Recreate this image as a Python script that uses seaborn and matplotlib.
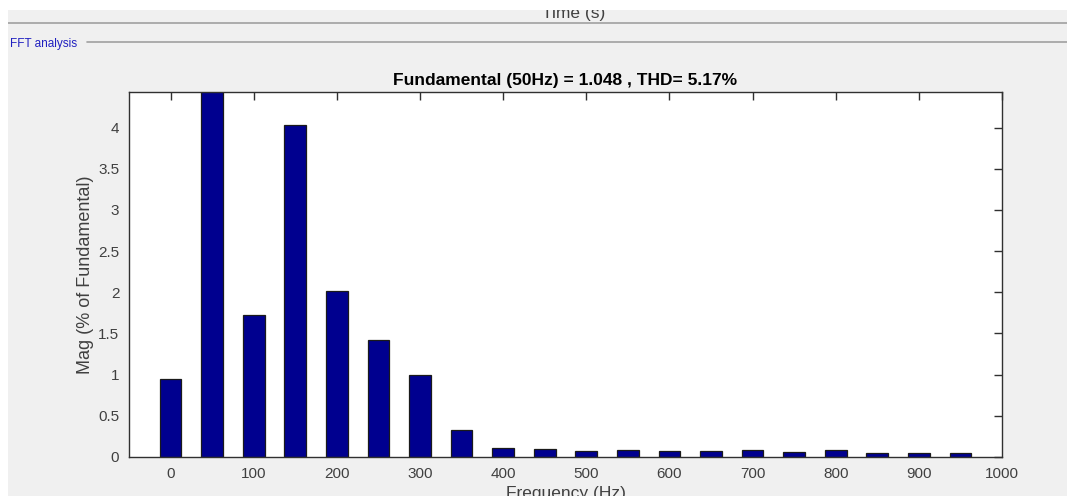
import numpy as np
import matplotlib
matplotlib.use("Agg")
import matplotlib.pyplot as plt
import seaborn as sns
from matplotlib.patches import Rectangle
from matplotlib.lines import Line2D

# harmonic spectrum (fundamental bar is clipped, 100 %)
freqs = [0, 50, 100, 150, 200, 250, 300, 350, 400, 450,
         500, 550, 600, 650, 700, 750, 800, 850, 900, 950]
mags = [0.95, 100.0, 1.72, 4.03, 2.02, 1.42, 1.00, 0.33, 0.11, 0.10,
        0.07, 0.085, 0.07, 0.07, 0.09, 0.057, 0.09, 0.045, 0.045, 0.045]
x_ticks = list(range(0, 1001, 100))
y_ticks = [0, 0.5, 1, 1.5, 2, 2.5, 3, 3.5, 4]

title = "Fundamental (50Hz) = 1.048 , THD= 5.17%"

sns.set_style("white")
plt.rcParams["font.family"] = ["Liberation Sans", "DejaVu Sans"]

GREY_BG = "#f0f0f0"
TXT = "#404040"

fig = plt.figure(figsize=(10.67, 4.96), dpi=100, facecolor=GREY_BG)
W, H = 1067, 496

ax = fig.add_axes([129 / W, (H - 457) / H, (1002 - 129) / W, (457 - 92) / H])
ax.set_facecolor("white")

sns.barplot(x=freqs, y=mags, native_scale=True, width=0.52,
            color="#00008f", saturation=1, edgecolor="#1a1a1a",
            linewidth=0.9, ax=ax)

ax.set_xlim(-50, 1000)
ax.set_ylim(0, 1.1 * max(m for f, m in zip(freqs, mags) if f != 50))
ax.set_xticks(x_ticks)
ax.set_xticklabels([str(t) for t in x_ticks])
ax.set_yticks(y_ticks)
ax.set_yticklabels([f"{t:g}" for t in y_ticks])
ax.tick_params(direction="in", length=6, width=1, color="#303030",
               labelsize=11, labelcolor=TXT, top=True, right=True, pad=7)
for s in ax.spines.values():
    s.set_visible(True)
    s.set_color("#303030")
    s.set_linewidth(1)

ax.set_title(title, fontsize=12.5, fontweight="bold", color="black", pad=5)
ax.set_ylabel("Mag (% of Fundamental)", fontsize=13, color=TXT, labelpad=3)
ax.set_xlabel("")

# window chrome around the axes (labels partly clipped like the screenshot)
fig.text(0.5 * (129 + 1002) / W, (H - 486) / H, "Frequency (Hz)", ha="center",
         va="top", fontsize=12.5, color=TXT)
fig.text(574 / W, (H - 6) / H, "Time (s)", ha="center", va="top",
         fontsize=12.5, color=TXT)
fig.add_artist(Rectangle((0, (H - 10) / H), 1, 10 / H, transform=fig.transFigure,
                         facecolor="white", edgecolor="none", zorder=10))
fig.add_artist(Rectangle((0, 0), 8 / W, 1, transform=fig.transFigure,
                         facecolor="white", edgecolor="none", zorder=10))
fig.add_artist(Line2D([8 / W, 1], [(H - 23) / H] * 2, transform=fig.transFigure,
                      color="#a0a0a0", lw=1.2))
fig.add_artist(Line2D([87 / W, 1], [(H - 42) / H] * 2, transform=fig.transFigure,
                      color="#a0a0a0", lw=1.2))
fig.text(10 / W, (H - 44) / H, "FFT analysis", ha="left", va="center",
         fontsize=8.5, color="#2020c0", fontstretch="condensed")

fig.savefig("out.png", dpi=100, facecolor=GREY_BG)
